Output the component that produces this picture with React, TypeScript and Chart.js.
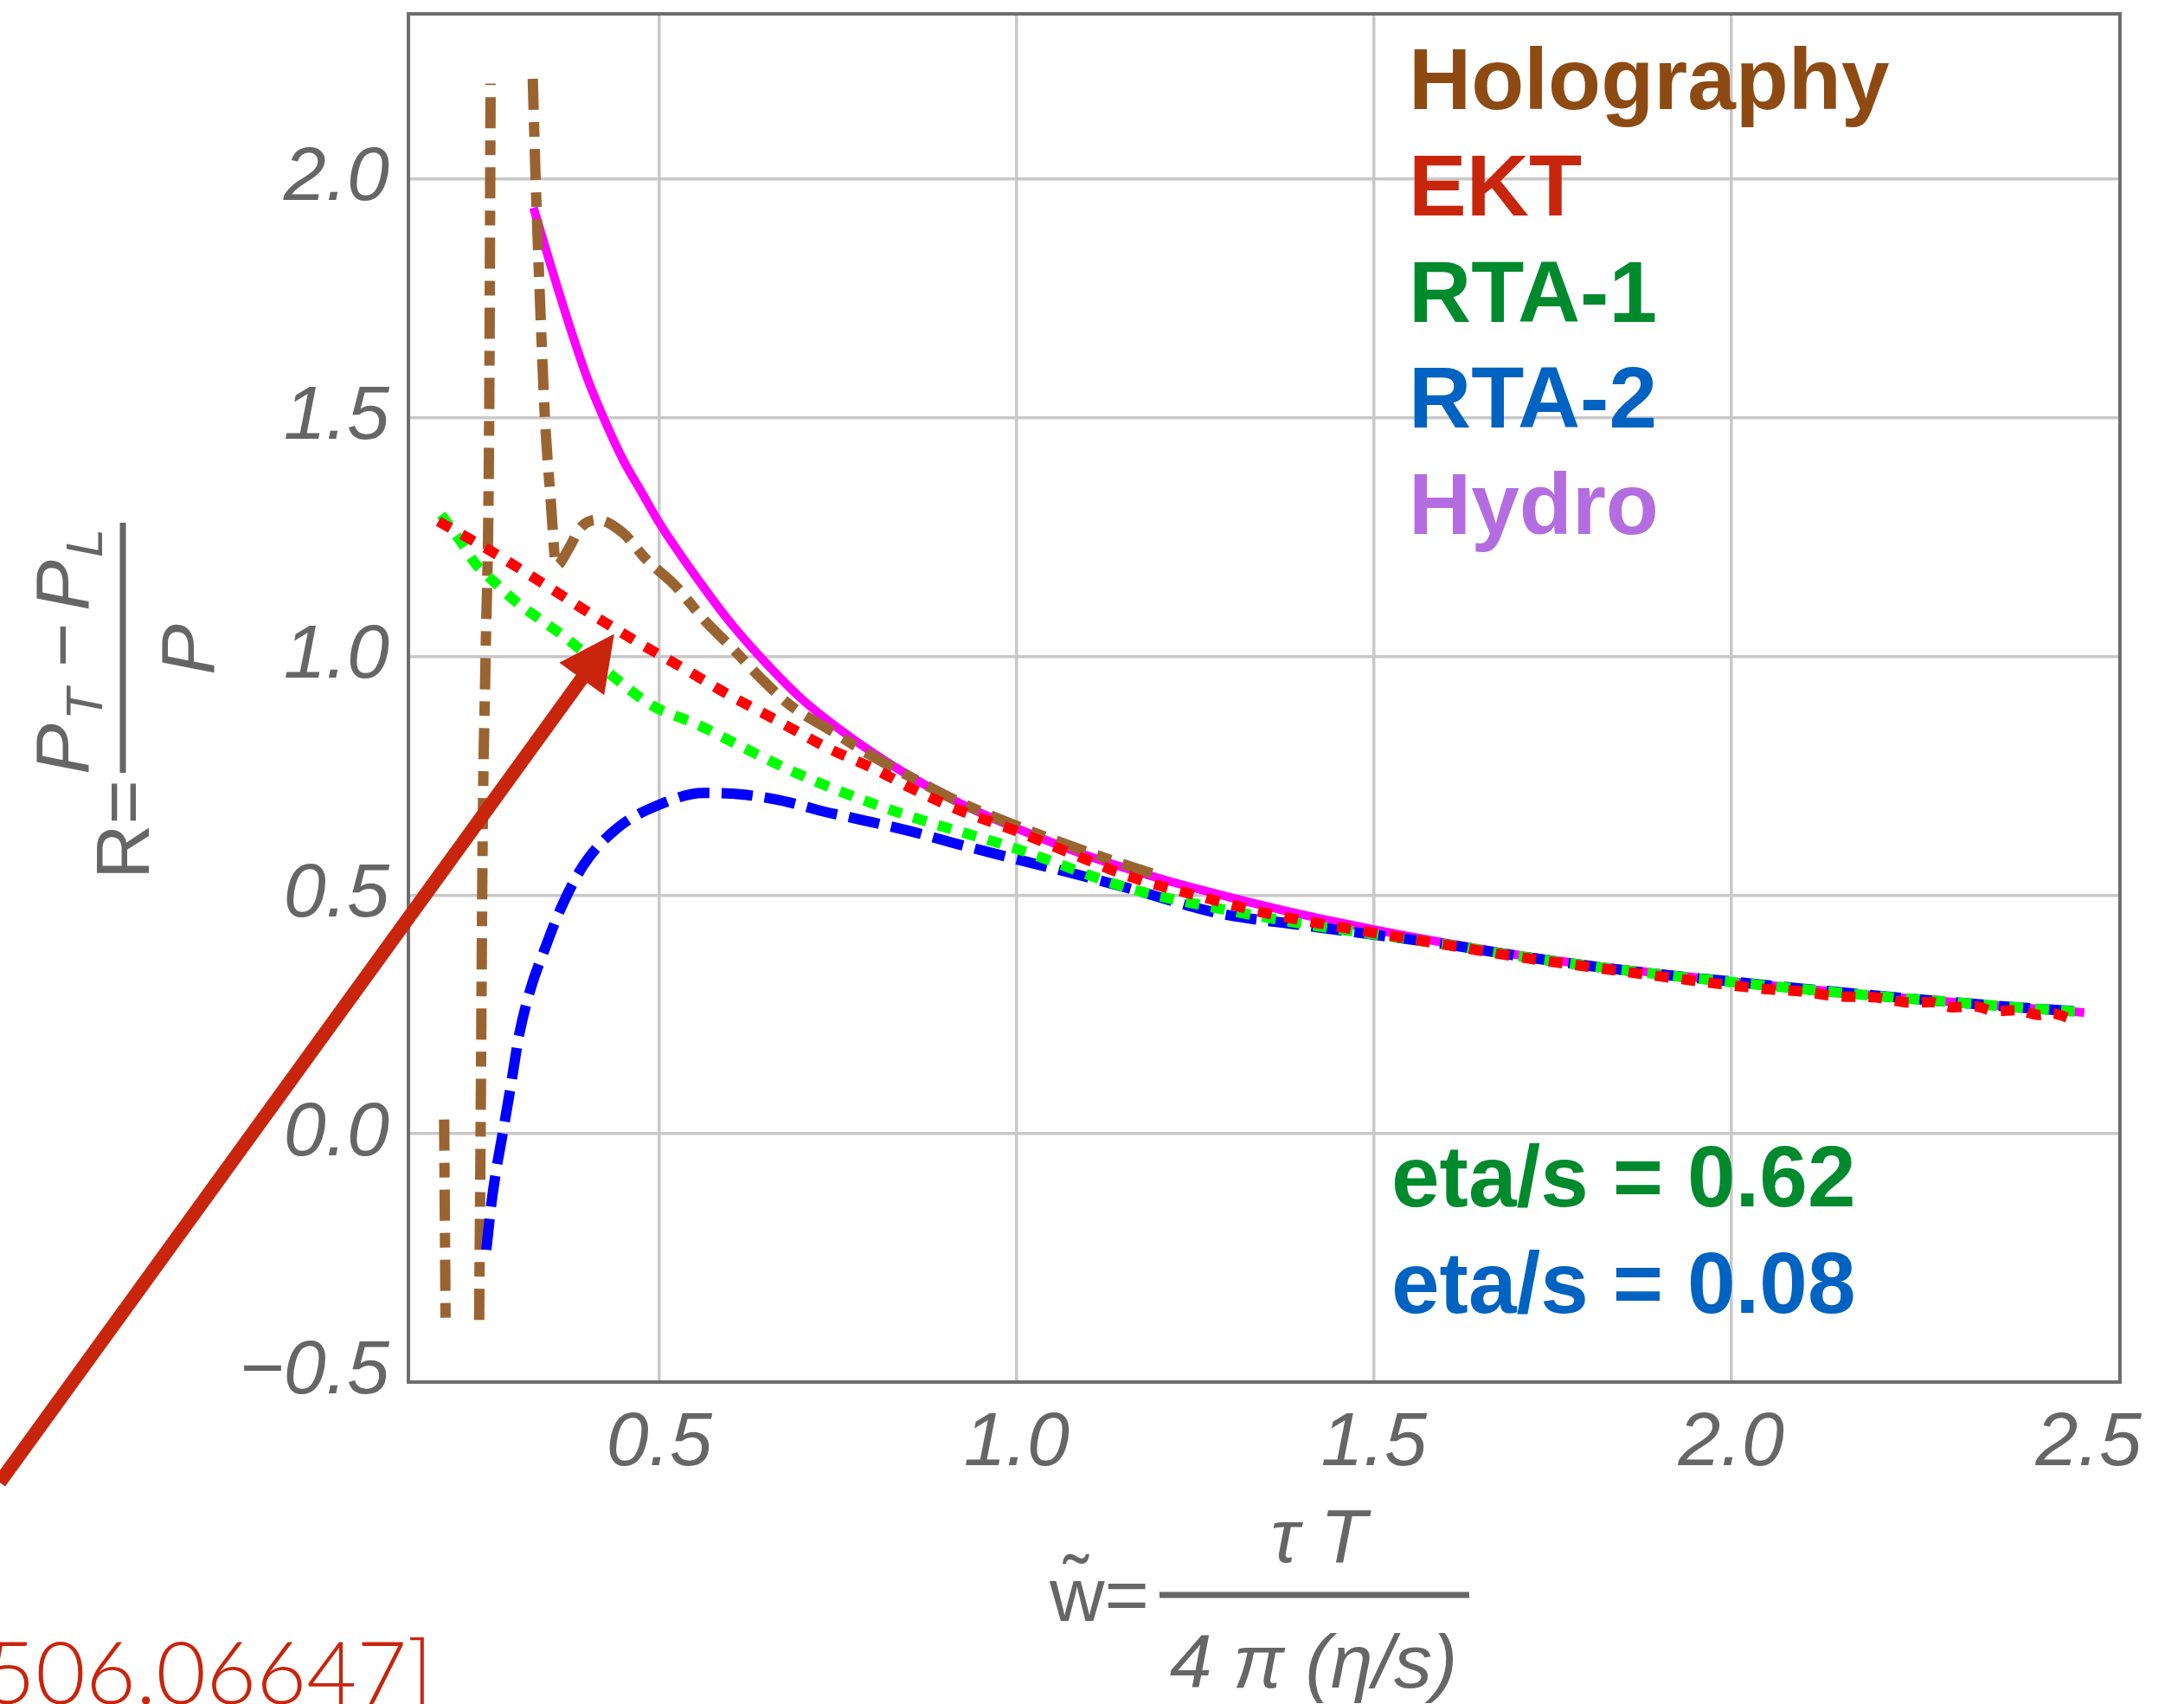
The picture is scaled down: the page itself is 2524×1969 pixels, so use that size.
import React, { useEffect, useRef } from "react";
import { Chart, registerables } from "chart.js";

Chart.register(...registerables);

// ---------- axes ----------
const X_RANGE = [0.149, 2.544];
const Y_RANGE = [-0.52, 2.346];
const X_TICKS = [0.5, 1.0, 1.5, 2.0, 2.5];
const Y_TICKS = [-0.5, 0.0, 0.5, 1.0, 1.5, 2.0];
const X_UNGRIDDED = [2.5];
const Y_UNGRIDDED = [-0.5];

// ---------- series ----------
// Holography: two near-vertical pole branches, then the main branch
const HOLO_A_X = [0.199, 0.2, 0.201];
const HOLO_A_Y = [0.03, -0.18, -0.39];
const HOLO_B_X = [0.248, 0.25, 0.253, 0.257, 0.262, 0.264];
const HOLO_B_Y = [-0.39, 0.0, 0.64, 1.0, 1.5, 2.2];
const HOLO_C_X = [0.323, 0.327, 0.333, 0.34, 0.348, 0.356, 0.373, 0.39, 0.413, 0.449, 0.482, 0.522, 0.562, 0.603, 0.643, 0.683, 0.743, 0.788, 0.851, 0.92, 1.0, 1.1, 1.2];
const HOLO_C_Y = [2.21, 2.0, 1.75, 1.5, 1.33, 1.19, 1.225, 1.27, 1.286, 1.259, 1.203, 1.149, 1.078, 1.016, 0.953, 0.898, 0.842, 0.8, 0.748, 0.695, 0.645, 0.59, 0.54];

const EKT_X = [0.191, 0.264, 0.332, 0.397, 0.465, 0.534, 0.598, 0.667, 0.736, 0.8, 0.851, 0.92, 1.0, 1.08, 1.16, 1.25, 1.35, 1.496, 1.6, 1.7, 1.8, 1.9, 2.0, 2.05, 2.1, 2.15, 2.2, 2.25, 2.28, 2.31, 2.34, 2.37, 2.4, 2.43, 2.45, 2.475];
const EKT_Y = [1.283, 1.221, 1.158, 1.096, 1.034, 0.975, 0.919, 0.864, 0.808, 0.765, 0.725, 0.678, 0.634, 0.585, 0.538, 0.5, 0.462, 0.422, 0.396, 0.371, 0.35, 0.33, 0.311, 0.303, 0.298, 0.288, 0.286, 0.275, 0.276, 0.265, 0.267, 0.257, 0.259, 0.249, 0.252, 0.241];

const RTA1_X = [0.195, 0.223, 0.243, 0.272, 0.3, 0.332, 0.364, 0.433, 0.489, 0.554, 0.619, 0.687, 0.764, 0.851, 0.998, 1.16, 1.283, 1.4, 1.5, 1.6, 1.7, 1.8, 1.9, 2.0, 2.1, 2.2, 2.3, 2.4, 2.483];
const RTA1_Y = [1.297, 1.239, 1.194, 1.152, 1.114, 1.079, 1.045, 0.961, 0.898, 0.857, 0.808, 0.759, 0.711, 0.665, 0.598, 0.513, 0.472, 0.44, 0.418, 0.397, 0.373, 0.352, 0.334, 0.318, 0.303, 0.289, 0.277, 0.265, 0.256];

const RTA2_X = [0.258, 0.265, 0.272, 0.28, 0.292, 0.304, 0.32, 0.34, 0.364, 0.395, 0.441, 0.501, 0.562, 0.622, 0.683, 0.728, 0.788, 0.851, 0.92, 0.998, 1.08, 1.16, 1.283, 1.4, 1.5, 1.6, 1.7, 1.8, 1.9, 2.0, 2.1, 2.2, 2.3, 2.4, 2.49];
const RTA2_Y = [-0.243, -0.147, -0.075, -0.007, 0.098, 0.208, 0.304, 0.388, 0.478, 0.565, 0.64, 0.69, 0.714, 0.71, 0.694, 0.676, 0.656, 0.634, 0.606, 0.576, 0.545, 0.513, 0.462, 0.437, 0.417, 0.397, 0.373, 0.352, 0.334, 0.319, 0.304, 0.29, 0.277, 0.265, 0.256];

const HYDRO_X = [0.324, 0.35, 0.375, 0.4, 0.425, 0.45, 0.475, 0.5, 0.55, 0.6, 0.65, 0.7, 0.75, 0.8, 0.85, 0.9, 0.95, 1.0, 1.1, 1.2, 1.3, 1.4, 1.5, 1.6, 1.7, 1.8, 1.9, 2.0, 2.1, 2.2, 2.3, 2.4, 2.494];
const HYDRO_Y = [1.94, 1.81, 1.69, 1.58, 1.49, 1.41, 1.345, 1.28, 1.17, 1.07, 0.985, 0.91, 0.85, 0.797, 0.75, 0.708, 0.672, 0.64, 0.582, 0.535, 0.495, 0.459, 0.428, 0.4, 0.375, 0.354, 0.336, 0.319, 0.304, 0.29, 0.277, 0.265, 0.254];

// ---------- texts ----------
const LEGEND_LABELS = ["Holography", "EKT", "RTA-1", "RTA-2", "Hydro"];
const LEGEND_COLORS = ["#8d4a12", "#c8260c", "#008a2e", "#0062c1", "#b46de0"];
const NOTE_LABELS = ["eta/s = 0.62", "eta/s = 0.08"];
const NOTE_COLORS = ["#008a2e", "#0062c1"];
const REF_LABEL = "506.06647]";
const ARROW_TAIL = { x: -0.423, y: -0.73 };
const ARROW_TIP = { x: 0.437, y: 1.047 };

const FONT = "'Liberation Sans', Arial, Helvetica, sans-serif";
const AXIS_TEXT = "#666666";
const GRID_COLOR = "#c8c8c8";
const FRAME_COLOR = "#6e6e6e";
const ARROW_COLOR = "#c8250c";

const W = 2524;
const H = 1969;

function pts(xs: number[], ys: number[]) {
  return xs.map((x, i) => ({ x, y: ys[i] }));
}

const overlay = {
  id: "overlay",
  afterDraw(chart: any) {
    const { ctx, chartArea: a, scales } = chart;
    const xs = scales.x;
    const ys = scales.y;
    ctx.save();

    // frame
    ctx.strokeStyle = FRAME_COLOR;
    ctx.lineWidth = 4;
    ctx.strokeRect(a.left, a.top, a.right - a.left, a.bottom - a.top);

    // legend
    ctx.textAlign = "left";
    ctx.textBaseline = "alphabetic";
    ctx.font = `bold 100px ${FONT}`;
    LEGEND_LABELS.forEach((t, i) => {
      ctx.fillStyle = LEGEND_COLORS[i];
      ctx.fillText(t, 1628, 126 + i * 122.75);
    });
    NOTE_LABELS.forEach((t, i) => {
      ctx.fillStyle = NOTE_COLORS[i];
      ctx.fillText(t, 1608, 1394 + i * 123);
    });

    // y-axis title (rotated math)
    ctx.save();
    ctx.rotate(-Math.PI / 2);
    ctx.fillStyle = AXIS_TEXT;
    ctx.font = `88px ${FONT}`;
    ctx.fillText("R=", -1016, 172);
    ctx.font = `italic 88px ${FONT}`;
    ctx.fillText("P", -895, 102);
    ctx.font = `italic 60px ${FONT}`;
    ctx.fillText("T", -832, 118);
    ctx.font = `88px ${FONT}`;
    ctx.fillText("\u2212", -771, 102);
    ctx.font = `italic 88px ${FONT}`;
    ctx.fillText("P", -706, 102);
    ctx.font = `italic 60px ${FONT}`;
    ctx.fillText("L", -644, 118);
    ctx.font = `italic 88px ${FONT}`;
    ctx.fillText("P", -780, 247);
    ctx.fillRect(-893, 138.5, 289, 7);
    ctx.restore();

    // x-axis title
    ctx.fillStyle = AXIS_TEXT;
    ctx.font = `88px ${FONT}`;
    ctx.textAlign = "left";
    ctx.fillText("w\u0303=", 1213, 1873);
    ctx.fillRect(1340, 1839.5, 358, 7);
    ctx.font = `italic 88px ${FONT}`;
    ctx.textAlign = "center";
    ctx.fillText("\u03c4 T", 1524, 1805);
    ctx.fillText("4 \u03c0 (\u03b7/s)", 1518, 1950);

    // arrow
    const tip = { x: xs.getPixelForValue(ARROW_TIP.x), y: ys.getPixelForValue(ARROW_TIP.y) };
    const tail = { x: xs.getPixelForValue(ARROW_TAIL.x), y: ys.getPixelForValue(ARROW_TAIL.y) };
    const dx = tail.x - tip.x;
    const dy = tail.y - tip.y;
    const len = Math.hypot(dx, dy);
    const ux = dx / len;
    const uy = dy / len;
    const L = 64;
    const HW = 32;
    const bx = tip.x + ux * L;
    const by = tip.y + uy * L;
    ctx.strokeStyle = ARROW_COLOR;
    ctx.fillStyle = ARROW_COLOR;
    ctx.lineWidth = 16;
    ctx.lineCap = "butt";
    ctx.beginPath();
    ctx.moveTo(tail.x, tail.y);
    ctx.lineTo(bx - ux * 6, by - uy * 6);
    ctx.stroke();
    ctx.beginPath();
    ctx.moveTo(tip.x, tip.y);
    ctx.lineTo(bx - uy * HW, by + ux * HW);
    ctx.lineTo(bx + uy * HW, by - ux * HW);
    ctx.closePath();
    ctx.fill();

    // reference label
    ctx.font = `300 100px Lato, ${FONT}`;
    ctx.textAlign = "right";
    ctx.fillStyle = ARROW_COLOR;
    ctx.fillText(REF_LABEL, 500, 1969);

    ctx.restore();
  },
};

export default function App() {
  const ref = useRef<HTMLCanvasElement>(null);

  useEffect(() => {
    const canvas = ref.current;
    if (!canvas) return;
    const holo = [
      ...pts(HOLO_A_X, HOLO_A_Y),
      { x: 0.22, y: null },
      ...pts(HOLO_B_X, HOLO_B_Y),
      { x: 0.29, y: null },
      ...pts(HOLO_C_X, HOLO_C_Y),
    ];
    const common = {
      pointRadius: 0,
      fill: false,
      borderCapStyle: "butt",
      cubicInterpolationMode: "monotone",
      spanGaps: false,
    };
    const gridColor = (vals: number[]) => (c: any) =>
      c.tick && vals.includes(c.tick.value) ? "rgba(0,0,0,0)" : GRID_COLOR;
    const fmt = (v: number) => (v < 0 ? "\u2212" + Math.abs(v).toFixed(1) : v.toFixed(1));
    const zeroPad = (s: any) => {
      s.paddingTop = 0;
      s.paddingBottom = 0;
      s.paddingLeft = 0;
      s.paddingRight = 0;
    };

    const chart = new Chart(canvas, {
      type: "line",
      data: {
        datasets: [
          { ...common, label: "EKT", data: pts(EKT_X, EKT_Y), borderColor: "#ff0000", borderWidth: 12, borderDash: [16, 15] },
          { ...common, label: "RTA-1", data: pts(RTA1_X, RTA1_Y), borderColor: "#00ff00", borderWidth: 12, borderDash: [16, 14] },
          { ...common, label: "RTA-2", data: pts(RTA2_X, RTA2_Y), borderColor: "#0000ff", borderWidth: 12, borderDash: [36, 14] },
          { ...common, label: "Holography", data: holo, borderColor: "#9a6432", borderWidth: 12, borderDash: [36, 14, 17, 14] },
          { ...common, label: "Hydro", data: pts(HYDRO_X, HYDRO_Y), borderColor: "#ff00ff", borderWidth: 10 },
        ] as any,
      },
      options: {
        responsive: false,
        animation: false,
        devicePixelRatio: 1,
        layout: { padding: { left: 0, top: 16, right: 74, bottom: 0 } },
        plugins: {
          legend: { display: false },
          tooltip: { enabled: false },
          title: { display: false },
        },
        scales: {
          x: {
            type: "linear",
            min: X_RANGE[0],
            max: X_RANGE[1],
            afterBuildTicks: (s: any) => {
              s.ticks = X_TICKS.map((value) => ({ value }));
            },
            afterFit: (s: any) => {
              s.height = H - 1597;
              zeroPad(s);
            },
            ticks: {
              autoSkip: false,
              maxRotation: 0,
              padding: 19,
              color: AXIS_TEXT,
              font: { family: FONT, size: 88, style: "italic" },
              callback: (v: any) => fmt(Number(v)),
            },
            grid: { color: gridColor(X_UNGRIDDED), lineWidth: 3.5, drawTicks: false },
            border: { display: true, color: FRAME_COLOR, width: 4 },
          },
          y: {
            type: "linear",
            min: Y_RANGE[0],
            max: Y_RANGE[1],
            afterBuildTicks: (s: any) => {
              s.ticks = Y_TICKS.map((value) => ({ value }));
            },
            afterFit: (s: any) => {
              s.width = 472;
              zeroPad(s);
            },
            ticks: {
              autoSkip: false,
              padding: 22,
              color: AXIS_TEXT,
              font: { family: FONT, size: 88, style: "italic" },
              callback: (v: any) => fmt(Number(v)),
            },
            grid: { color: gridColor(Y_UNGRIDDED), lineWidth: 3.5, drawTicks: false },
            border: { display: true, color: FRAME_COLOR, width: 4 },
          },
        },
      } as any,
      plugins: [overlay],
    });
    return () => chart.destroy();
  }, []);

  return (
    <div style={{ position: "fixed", left: 0, top: 0, width: W, height: H, background: "#ffffff" }}>
      <canvas ref={ref} width={W} height={H} style={{ display: "block", width: W, height: H }} />
    </div>
  );
}
